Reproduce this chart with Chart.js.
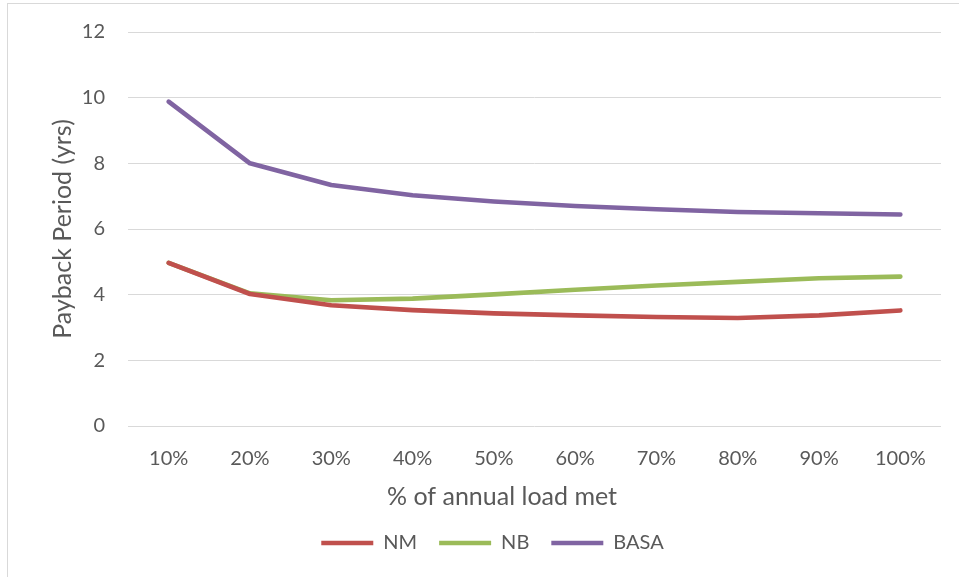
<!DOCTYPE html>
<html>
<head>
<meta charset="utf-8">
<script src="https://cdn.jsdelivr.net/npm/chart.js@4.4.0/dist/chart.umd.min.js"></script>
<style>
  html, body { margin: 0; padding: 0; background: #ffffff; }
  #frame { position: absolute; left: 7px; top: 3px; width: 960px; height: 580px; border: 1px solid #D9D9D9; box-sizing: border-box; }
  #wrap { position: absolute; left: 0; top: 0; width: 959px; height: 577px; }
</style>
</head>
<body>
<div id="frame"></div>
<div id="wrap"><canvas id="c" width="959" height="577"></canvas></div>
<script>
const categories = ["10%", "20%", "30%", "40%", "50%", "60%", "70%", "80%", "90%", "100%"];
const nmValues   = [4.97, 4.02, 3.68, 3.53, 3.43, 3.37, 3.32, 3.29, 3.37, 3.52];
const nbValues   = [4.97, 4.04, 3.83, 3.88, 4.01, 4.15, 4.28, 4.39, 4.50, 4.55];
const basaValues = [9.88, 8.00, 7.34, 7.03, 6.84, 6.70, 6.60, 6.52, 6.48, 6.44];
const seriesNames = ["NM", "NB", "BASA"];
const yTicks = [0, 2, 4, 6, 8, 10, 12];
const xTitle = "% of annual load met";
const yTitle = "Payback Period (yrs)";

const FONT = "Lato, 'Open Sans', sans-serif";
const TEXT = "#595959";

function ds(label, data, color) {
  return {
    label, data,
    borderColor: color, backgroundColor: color,
    borderWidth: 4.6, pointRadius: 0, pointHoverRadius: 0,
    tension: 0, borderCapStyle: 'round', borderJoinStyle: 'round', fill: false
  };
}

// Excel-style placement: x-axis title and legend are centred slightly off the plot centre
const placement = {
  id: 'placement',
  afterLayout(chart) {
    const lg = chart.legend;
    if (lg) { lg.left += 22; lg.right += 22; }
  },
  afterDraw(chart) {
    const ctx = chart.ctx;
    ctx.save();
    ctx.font = "25px " + FONT;
    ctx.fillStyle = TEXT;
    ctx.textAlign = 'center';
    ctx.textBaseline = 'middle';
    ctx.fillText(xTitle, 502, 497);
    ctx.restore();
  }
};

new Chart(document.getElementById('c'), {
  type: 'line',
  data: {
    labels: categories,
    datasets: [
      ds(seriesNames[0], nmValues, '#C0504D'),
      ds(seriesNames[1], nbValues, '#9BBB59'),
      ds(seriesNames[2], basaValues, '#8064A2')
    ]
  },
  plugins: [placement],
  options: {
    responsive: false,
    animation: false,
    devicePixelRatio: 1,
    layout: { padding: { top: 5, right: 18, bottom: 14, left: 0 } },
    plugins: {
      tooltip: { enabled: false },
      legend: {
        position: 'bottom',
        labels: {
          usePointStyle: true,
          pointStyle: 'line',
          pointStyleWidth: 52,
          boxHeight: 10,
          padding: 22,
          color: TEXT,
          font: { family: FONT, size: 20 }
        }
      }
    },
    scales: {
      x: {
        offset: true,
        afterFit: (s) => { s.height = 85; },
        grid: { display: false, drawTicks: false },
        border: { display: false },
        ticks: { color: TEXT, font: { family: FONT, size: 20 }, padding: 21, maxRotation: 0 },
        title: { display: false, text: xTitle }
      },
      y: {
        min: 0, max: 12,
        afterBuildTicks: (s) => { s.ticks = yTicks.map(v => ({ value: v })); },
        afterFit: (s) => { s.width = 128; s.paddingTop = 32; s.paddingBottom = 20; },
        grid: { color: '#D9D9D9', lineWidth: 1, drawTicks: false },
        border: { display: false },
        ticks: { color: TEXT, font: { family: FONT, size: 20 }, padding: 23 },
        title: { display: true, text: yTitle, color: TEXT, font: { family: FONT, size: 25 }, padding: { top: 48, bottom: 0 } }
      }
    }
  }
});
</script>
</body>
</html>
